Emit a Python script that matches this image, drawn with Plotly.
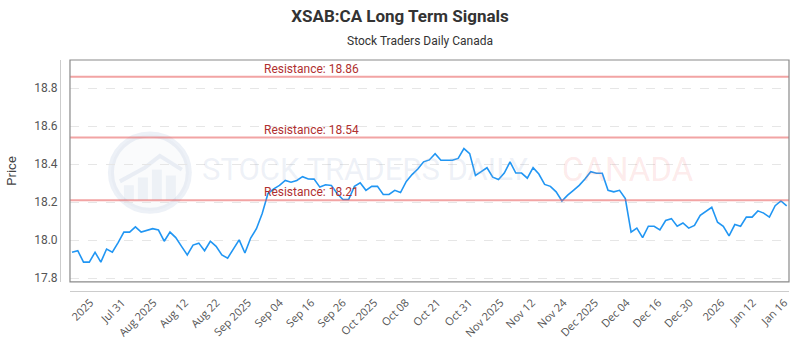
import plotly.graph_objects as go

# ---- data ----
prices = [
    17.936, 17.944, 17.884, 17.884, 17.936, 17.884, 17.953, 17.936, 17.987, 18.042,
    18.042, 18.070, 18.042, 18.053, 18.060, 18.053, 17.994, 18.042, 18.013, 17.967,
    17.922, 17.974, 17.984, 17.944, 17.994, 17.967, 17.922, 17.905, 17.953, 18.001,
    17.932, 18.011, 18.060, 18.140, 18.245, 18.270, 18.288, 18.314, 18.305, 18.314,
    18.334, 18.322, 18.321, 18.279, 18.291, 18.288, 18.245, 18.214, 18.214, 18.283,
    18.302, 18.262, 18.283, 18.283, 18.240, 18.240, 18.262, 18.250, 18.309, 18.345,
    18.374, 18.412, 18.422, 18.455, 18.420, 18.420, 18.420, 18.430, 18.482, 18.455,
    18.340, 18.360, 18.381, 18.331, 18.319, 18.353, 18.412, 18.353, 18.353, 18.326,
    18.381, 18.348, 18.293, 18.283, 18.254, 18.206, 18.237, 18.262, 18.288, 18.322,
    18.360, 18.352, 18.352, 18.262, 18.254, 18.262, 18.219, 18.042, 18.063, 18.013,
    18.073, 18.073, 18.054, 18.103, 18.113, 18.073, 18.090, 18.063, 18.077, 18.130,
    18.151, 18.173, 18.094, 18.073, 18.022, 18.082, 18.073, 18.121, 18.121, 18.154,
    18.142, 18.121, 18.181, 18.206, 18.180,
]
resistance_levels = [18.86, 18.54, 18.21]
tick_labels = ["2025", "Jul 31", "Aug 2025", "Aug 12", "Aug 22", "Sep 2025", "Sep 04",
               "Sep 16", "Sep 26", "Oct 2025", "Oct 08", "Oct 21", "Oct 31", "Nov 2025",
               "Nov 12", "Nov 24", "Dec 2025", "Dec 04", "Dec 16", "Dec 30", "2026",
               "Jan 12", "Jan 16"]
y_ticks = [17.8, 18.0, 18.2, 18.4, 18.6, 18.8]

x_idx = list(range(len(prices)))
n_ticks = len(tick_labels)
first_tick, last_tick = 3.2, len(prices) - 1.4
step = (last_tick - first_tick) / (n_ticks - 1)
tick_vals = [first_tick + i * step for i in range(n_ticks)]

# pixel helpers for paper-referenced decorations (plot area: x 60..790, y 60..296)
def px(x):
    return (x - 60) / 730

def py(y):
    return (296 - y) / 236

fig = go.Figure()
fig.add_trace(go.Scatter(
    x=x_idx, y=prices, mode="lines",
    line=dict(color="#2196f3", width=1.6),
    hoverinfo="skip", showlegend=False,
))

# watermark logo
wm = "rgba(150,170,205,0.17)"
fig.add_shape(type="circle", xref="paper", yref="paper",
              x0=px(111), x1=px(189), y0=py(214), y1=py(136),
              line=dict(color=wm, width=6), fillcolor="rgba(150,170,205,0.05)", layer="below")
for bx0, bx1, by in [(124, 134, 188), (138, 148, 180), (152, 162, 172), (166, 176, 178)]:
    fig.add_shape(type="rect", xref="paper", yref="paper",
                  x0=px(bx0), x1=px(bx1), y0=py(203), y1=py(by),
                  line=dict(width=0), fillcolor="rgba(150,170,205,0.12)", layer="below")
fig.add_shape(type="path", xref="paper", yref="paper",
              path=f"M {px(120)},{py(184)} L {px(145)},{py(170)} L {px(160)},{py(158)} L {px(182)},{py(172)}",
              line=dict(color=wm, width=4), layer="below")
fig.add_annotation(xref="paper", yref="paper", x=px(200), y=py(172),
                   text="STOCK TRADERS DAILY", showarrow=False, xanchor="left", yanchor="middle",
                   font=dict(family="Roboto", size=31, color="rgba(150,170,205,0.17)"))
fig.add_annotation(xref="paper", yref="paper", x=px(697), y=py(172),
                   text="CANADA", showarrow=False, xanchor="right", yanchor="middle",
                   font=dict(family="Roboto", size=33, color="rgba(240,110,110,0.15)"))

for lvl in resistance_levels:
    fig.add_shape(type="line", xref="x domain", yref="y", x0=0, x1=1, y0=lvl, y1=lvl,
                  line=dict(color="rgba(232,90,90,0.55)", width=2), layer="above")
    fig.add_annotation(xref="paper", yref="y", x=px(262), y=lvl,
                       text=f"Resistance: {lvl:.2f}", showarrow=False,
                       xanchor="left", yanchor="bottom", yshift=-1,
                       font=dict(family="Roboto", size=12, color="#b03030"))

# plot frame
fig.add_shape(type="rect", xref="x domain", yref="y domain", x0=0, x1=1, y0=0, y1=1,
              line=dict(color="#8a8a8a", width=1.2), layer="above")

fig.add_annotation(xref="paper", yref="paper", x=0.5 - 5 / 730, y=py(41),
                   text="Stock Traders Daily Canada", showarrow=False,
                   xanchor="center", yanchor="middle",
                   font=dict(family="Roboto", size=12, color="#333333"))

fig.update_layout(
    width=800, height=350,
    margin=dict(l=60, r=10, t=60, b=54),
    paper_bgcolor="white", plot_bgcolor="white",
    title=dict(text="<b>XSAB:CA Long Term Signals</b>", x=0.5, xanchor="center",
               y=1 - 16 / 350, yanchor="middle",
               font=dict(family="Roboto", size=17, color="#333333")),
    xaxis=dict(
        domain=[10 / 730, 1], range=[-0.35, len(prices) - 1 + 0.4],
        anchor="free", position=0,
        tickmode="array", tickvals=tick_vals, ticktext=tick_labels, tickangle=-45,
        showgrid=False, zeroline=False,
        showline=True, linecolor="#cccccc", linewidth=1,
        tickfont=dict(family="Open Sans", size=11, color="#555555"),
    ),
    yaxis=dict(
        domain=[(296 - 286.7) / 236, 1], range=[17.78, 18.948],
        anchor="free", position=0,
        tickmode="array", tickvals=y_ticks, ticktext=[f"{v:.1f}" for v in y_ticks],
        showgrid=True, gridcolor="#e6e6e6", griddash="dash", gridwidth=1,
        zeroline=False, showline=True, linecolor="#cccccc", linewidth=1,
        title=dict(text="Price", font=dict(family="Roboto", size=13, color="#444444"), standoff=13),
        tickfont=dict(family="Roboto", size=12, color="#555555"),
    ),
)

fig.write_html("out.html")
